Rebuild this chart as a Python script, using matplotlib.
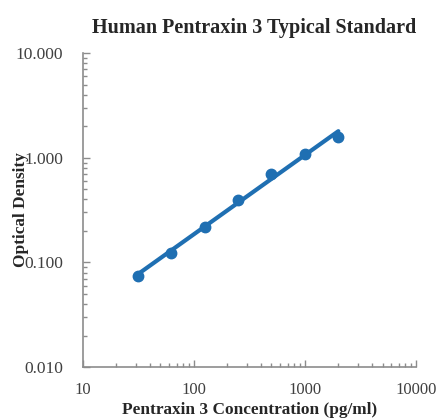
import numpy as np
import matplotlib
matplotlib.use("Agg")
import matplotlib.pyplot as plt
from matplotlib.ticker import FixedLocator, FuncFormatter, LogLocator, NullFormatter

# standard curve values
concentration = [31.25, 62.5, 125, 250, 500, 1000, 2000]
optical_density = [0.074, 0.124, 0.220, 0.398, 0.705, 1.090, 1.580]

x_ticks = [10, 100, 1000, 10000]
y_ticks = [0.01, 0.1, 1, 10]

plt.rcParams['font.family'] = ['Liberation Serif', 'DejaVu Serif']

fig = plt.figure(figsize=(4.36, 4.18), dpi=100)
ax = fig.add_axes([0.190, 0.122, 0.764, 0.751])

blue = '#1f6fb2'
grey = '#8c8c8c'

# power trendline fitted in log-log space
slope, icpt = np.polyfit(np.log10(concentration), np.log10(optical_density), 1)
xs = np.array([concentration[0], concentration[-1]])
ax.plot(xs, 10 ** (icpt + slope * np.log10(xs)), color=blue, lw=3, solid_capstyle='round')
ax.plot(concentration, optical_density, 'o', color=blue, ms=7.5)

ax.set_xscale('log')
ax.set_yscale('log')
ax.set_xlim(10, 10000)
ax.set_ylim(0.01, 10)

ax.xaxis.set_major_locator(FixedLocator(x_ticks))
ax.yaxis.set_major_locator(FixedLocator(y_ticks))
ax.xaxis.set_minor_locator(LogLocator(base=10, subs=np.arange(2, 10)))
ax.yaxis.set_minor_locator(LogLocator(base=10, subs=np.arange(2, 10)))
ax.xaxis.set_minor_formatter(NullFormatter())
ax.yaxis.set_minor_formatter(NullFormatter())
ax.xaxis.set_major_formatter(FuncFormatter(lambda v, p: f'{v:.0f}'))
ax.yaxis.set_major_formatter(FuncFormatter(lambda v, p: f'{v:.3f}'))

for s in ['top', 'right']:
    ax.spines[s].set_visible(False)
for s in ['left', 'bottom']:
    ax.spines[s].set_color(grey)
    ax.spines[s].set_linewidth(1.2)

ax.tick_params(which='major', direction='in', length=5, width=1, color=grey,
               labelsize=12, labelcolor='#404040')
ax.tick_params(which='minor', direction='in', length=3, width=1, color=grey)
ax.tick_params(axis='y', labelsize=12.5, pad=14)
ax.tick_params(axis='x', pad=11)

ax.text(0.513, 1.079, 'Human Pentraxin 3 Typical Standard', transform=ax.transAxes,
        fontsize=14.5, fontweight='bold', color='#262626', ha='center', va='center')
ax.set_xlabel('Pentraxin 3 Concentration (pg/ml)', fontsize=12.4, fontweight='bold',
              color='#262626')
ax.set_ylabel('Optical Density', fontsize=12.4, fontweight='bold', color='#262626')
ax.xaxis.set_label_coords(0.5, -0.11)
ax.yaxis.set_label_coords(-0.163, 0.5)

fig.savefig('out.png', dpi=100)
